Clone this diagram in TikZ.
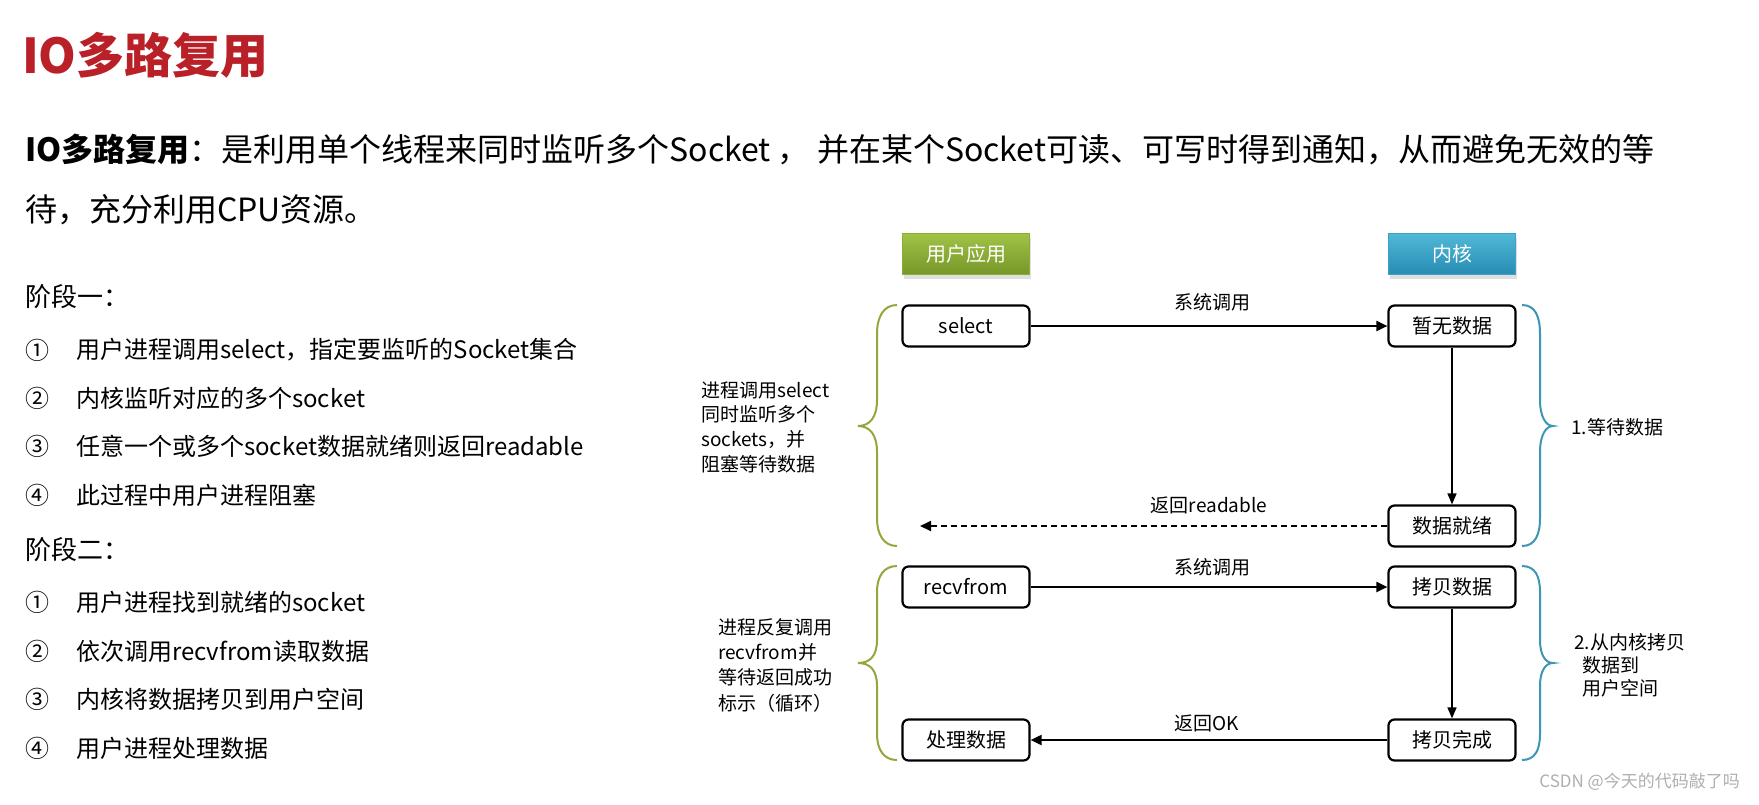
\documentclass[tikz,border=0pt]{standalone}
\usepackage{fontspec}
\setmainfont{Noto Sans CJK SC}
\usetikzlibrary{arrows.meta,shadows}
\definecolor{titlered}{RGB}{185,32,40}
\definecolor{gtop}{RGB}{160,195,70}
\definecolor{gbot}{RGB}{118,150,40}
\definecolor{gdraw}{RGB}{140,175,50}
\definecolor{btop}{RGB}{80,185,215}
\definecolor{bbot}{RGB}{40,140,178}
\definecolor{bdraw}{RGB}{60,160,200}
\definecolor{gbrace}{RGB}{150,165,60}
\definecolor{bbrace}{RGB}{60,150,180}
\definecolor{wm}{RGB}{175,175,175}
\newcommand\fsz[2]{\fontsize{#1}{#2}\selectfont}
\begin{document}
\begin{tikzpicture}[x=1pt,y=-1pt,
  box/.style={draw, line width=2.2pt, rounded corners=6pt, minimum width=127pt, minimum height=41pt, inner sep=0pt, fill=white, font=\fsz{20}{24}},
  hdrg/.style={minimum width=127pt, minimum height=41pt, inner sep=0pt, top color=gtop, bottom color=gbot, draw=gdraw, line width=1pt, text=white, font=\fsz{20}{24}, drop shadow={opacity=0.25,shadow xshift=1pt,shadow yshift=-4pt}},
  hdrb/.style={hdrg, top color=btop, bottom color=bbot, draw=bdraw},
  arr/.style={-{Triangle[length=11pt,width=10pt]}, line width=2pt},
  varr/.style={-{Triangle[length=11pt,width=9pt]}, line width=1.5pt},
  darr/.style={arr, dash pattern=on 6pt off 4pt},
  lbl/.style={font=\fsz{19}{23}, inner sep=0pt},
  txt/.style={anchor=west, inner sep=0pt, align=left},
  item/.style={anchor=west, inner sep=0pt, font=\fsz{24}{29}},
  head/.style={anchor=west, inner sep=0pt, font=\fsz{26}{30}},
  gbr/.style={draw=gbrace, line width=2pt},
  bbr/.style={draw=bbrace, line width=2pt}
]
\useasboundingbox[fill=white] (0,0) rectangle (1759,804);

% title and intro
\node[anchor=west, inner sep=0pt, font=\bfseries\fsz{48}{56}, text=titlered] (title) at (22,55) {IO多路复用};
\node[txt, font=\fsz{32}{38}] (l1) at (25,149) {\textbf{IO多路复用}：是利用单个线程来同时监听多个Socket ， 并在某个Socket可读、可写时得到通知，从而避免无效的等};
\node[txt, font=\fsz{32}{38}] (l2) at (25,210) {待，充分利用CPU资源。};

% stage 1
\node[head] (s1) at (25,297) {阶段一：};
\node[item] (n11) at (25,350) {①}; \node[item] (i11) at (76,350) {用户进程调用select，指定要监听的Socket集合};
\node[item] (n12) at (25,398) {②}; \node[item] (i12) at (76,398) {内核监听对应的多个socket};
\node[item] (n13) at (25,446) {③}; \node[item] (i13) at (76,446) {任意一个或多个socket数据就绪则返回readable};
\node[item] (n14) at (25,495) {④}; \node[item] (i14) at (76,495) {此过程中用户进程阻塞};

% stage 2
\node[head] (s2) at (25,550) {阶段二：};
\node[item] (n21) at (25,602) {①}; \node[item] (i21) at (76,602) {用户进程找到就绪的socket};
\node[item] (n22) at (25,651) {②}; \node[item] (i22) at (76,651) {依次调用recvfrom读取数据};
\node[item] (n23) at (25,699) {③}; \node[item] (i23) at (76,699) {内核将数据拷贝到用户空间};
\node[item] (n24) at (25,748) {④}; \node[item] (i24) at (76,748) {用户进程处理数据};

% headers
\node[hdrg] (app) at (966,254) {用户应用};
\node[hdrb] (kern) at (1452,254) {内核};

% section 1
\node[box] (sel) at (966,326) {select};
\node[box] (nodata) at (1452,326) {暂无数据};
\node[box] (ready) at (1452,526) {数据就绪};
\coordinate (rtip) at (920,526);
\draw[arr] (sel.east) -- (nodata.west);
\node[lbl] (sc1) at (1212,302) {系统调用};
\draw[varr] (nodata.south) -- (ready.north);
\draw[darr] (ready.west) -- (rtip);
\node[lbl] (rr) at (1209,505) {返回readable};

% section 2
\node[box] (recv) at (966,587) {recvfrom};
\node[box] (copy) at (1452,587) {拷贝数据};
\node[box] (done) at (1452,740) {拷贝完成};
\node[box] (proc) at (966,740) {处理数据};
\draw[arr] (recv.east) -- (copy.west);
\node[lbl] (sc2) at (1212,567) {系统调用};
\draw[varr] (copy.south) -- (done.north);
\draw[arr] (done.west) -- (proc.east);
\node[lbl] (rok) at (1207,723) {返回OK};

% braces section 1
\draw[gbr] (897,305) .. controls (884,305) and (877,316) .. (877,334) -- (877,400) .. controls (877,417) and (870,426) .. (858,426) .. controls (870,426) and (877,435) .. (877,452) -- (877,518) .. controls (877,535) and (884,546) .. (897,546);
\draw[bbr] (1522,305) .. controls (1535,305) and (1540,316) .. (1540,334) -- (1540,400) .. controls (1540,417) and (1546,426) .. (1553,426) .. controls (1546,426) and (1540,435) .. (1540,452) -- (1540,518) .. controls (1540,535) and (1535,546) .. (1522,546);
\node[txt, font=\fsz{19}{24.7}] (lt1) at (701,427) {进程调用select\\同时监听多个\\sockets，并\\阻塞等待数据};
\node[txt, font=\fsz{19}{24}] (rt1) at (1571,427) {1.等待数据};

% braces section 2
\draw[gbr] (897,566) .. controls (884,566) and (877,576) .. (877,592) -- (877,640) .. controls (877,656) and (870,663) .. (858,663) .. controls (870,663) and (877,670) .. (877,686) -- (877,734) .. controls (877,750) and (884,760) .. (897,760);
\draw[bbr] (1522,566) .. controls (1535,566) and (1540,576) .. (1540,592) -- (1540,640) .. controls (1540,656) and (1546,663) .. (1553,663) .. controls (1546,663) and (1540,670) .. (1540,686) -- (1540,734) .. controls (1540,750) and (1535,760) .. (1522,760);
\node[txt, font=\fsz{19}{25.3}] (lt2) at (718,665) {进程反复调用\\recvfrom并\\等待返回成功\\标示（循环）};
\node[txt, font=\fsz{19}{23}] (rt2) at (1574,665) {2.从内核拷贝\\\hspace*{8pt}数据到\\\hspace*{8pt}用户空间};

% watermark
\node[anchor=east, inner sep=0pt, font=\fsz{17}{20}, text=wm] (wmk) at (1740,782) {CSDN @今天的代码敲了吗};
\end{tikzpicture}
\end{document}
